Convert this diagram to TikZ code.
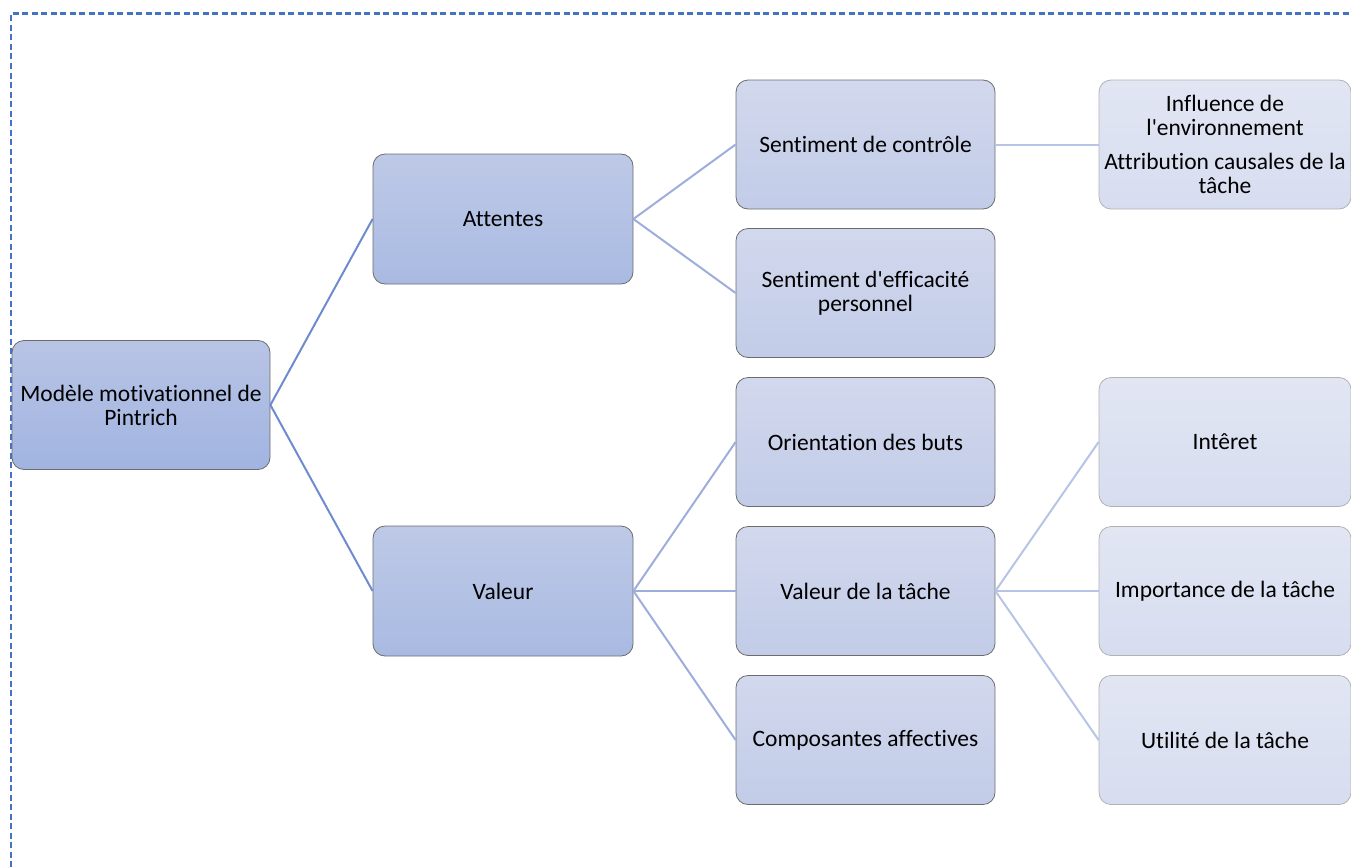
\documentclass[tikz,border=0pt]{standalone}
\usepackage{fontspec}
\setmainfont{Carlito}[Ligatures=TeXOff, RawFeature={-liga;-clig;-dlig;-calt}]
\usepackage{tikz}

\definecolor{framecol}{HTML}{4472C4}
\definecolor{linkA}{HTML}{6F8BD0}
\definecolor{linkB}{HTML}{9DAEDC}
\definecolor{linkC}{HTML}{B8C4E6}

\begin{document}
\begin{tikzpicture}[x=1pt,y=1pt]
	\tikzstyle{box}=[draw=gray!85!black, line width=0.8pt, rounded corners=12pt, align=center, inner sep=2pt, minimum height=129pt, font=\fontsize{23.5}{24}\selectfont]
	\tikzstyle{lvlzero}=[box, minimum width=258pt, top color={rgb,255:red,184;green,196;blue,229}, bottom color={rgb,255:red,161;green,180;blue,225}]
	\tikzstyle{lvlone}=[box, minimum width=260pt, minimum height=130pt, top color={rgb,255:red,190;green,201;blue,231}, bottom color={rgb,255:red,169;green,186;blue,226}]
	\tikzstyle{lvltwo}=[box, minimum width=259pt, top color={rgb,255:red,210;green,216;blue,237}, bottom color={rgb,255:red,194;green,204;blue,232}]
	\tikzstyle{lvlthree}=[box, draw=gray!60, minimum width=252pt, top color={rgb,255:red,226;green,230;blue,243}, bottom color={rgb,255:red,215;green,221;blue,240}]
	\useasboundingbox (0,0) rectangle (1351,-867);
	% cadre
	\draw [framecol, line width=2.4pt, dash pattern=on 6pt off 3.5pt] (11,-867) -- (11,-13.7) -- (1351,-13.7);
	% racine et niveau 1
	\node [lvlzero] (root) at (141,-405) {Modèle motivationnel de\\Pintrich};
	\node [lvlone] (att) at (503,-219) {Attentes};
	\node [lvlone] (val) at (503,-591) {Valeur};
	% niveau 2
	\node [lvltwo] (ctrl) at (865.5,-144.5) {Sentiment de contrôle};
	\node [lvltwo] (eff) at (865.5,-293) {Sentiment d'efficacité\\personnel};
	\node [lvltwo] (orient) at (865.5,-442) {Orientation des buts};
	\node [lvltwo] (vtache) at (865.5,-591) {Valeur de la tâche};
	\node [lvltwo] (affect) at (865.5,-740) {Composantes affectives};
	% niveau 3
	\node [lvlthree] (env) at (1225,-144.5) {Influence de\\l'environnement\\[10pt]Attribution causales de la\\tâche};
	\node [lvlthree] (interet) at (1225,-442) {Intêret};
	\node [lvlthree] (import) at (1225,-591) {Importance de la tâche};
	\node [lvlthree] (utilite) at (1225,-740) {Utilité de la tâche};
	% liens
	\draw [linkA, line width=2pt] (root.east) -- (att.west);
	\draw [linkA, line width=2pt] (root.east) -- (val.west);
	\draw [linkB, line width=2pt] (att.east) -- (ctrl.west);
	\draw [linkB, line width=2pt] (att.east) -- (eff.west);
	\draw [linkB, line width=2pt] (val.east) -- (orient.west);
	\draw [linkB, line width=2pt] (val.east) -- (vtache.west);
	\draw [linkB, line width=2pt] (val.east) -- (affect.west);
	\draw [linkC, line width=2pt] (ctrl.east) -- (env.west);
	\draw [linkC, line width=2pt] (vtache.east) -- (interet.west);
	\draw [linkC, line width=2pt] (vtache.east) -- (import.west);
	\draw [linkC, line width=2pt] (vtache.east) -- (utilite.west);
\end{tikzpicture}
\end{document}
